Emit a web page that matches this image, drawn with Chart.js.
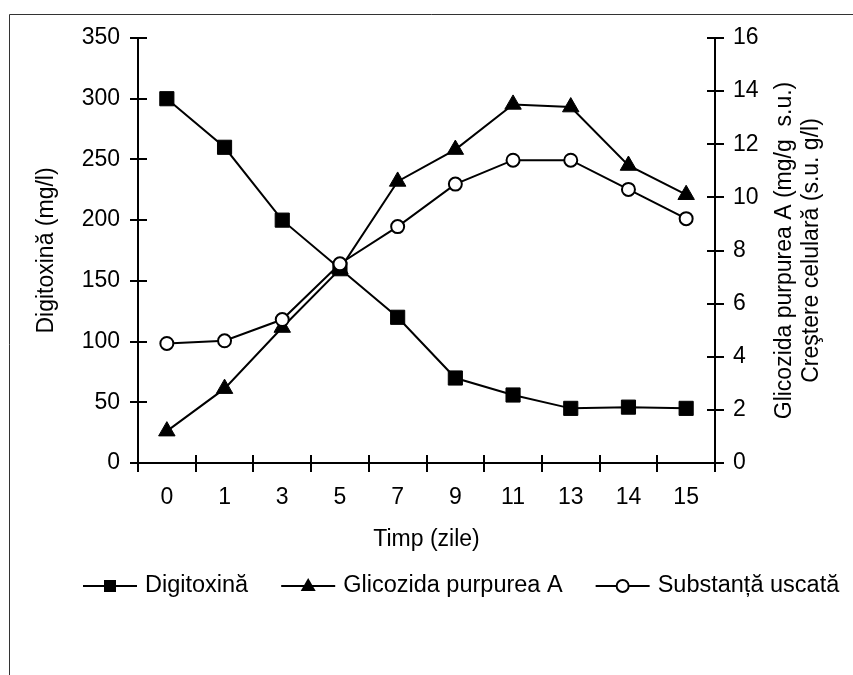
<!DOCTYPE html>
<html>
<head>
<meta charset="utf-8">
<script src="https://cdn.jsdelivr.net/npm/chart.js@4.4.1/dist/chart.umd.min.js"></script>
<style>
    html, body { margin: 0; padding: 0; background: #fff; }
    #wrap { position: relative; width: 853px; height: 675px; }
</style>
</head>
<body>
<div id="wrap"><canvas id="culturaChart" width="853" height="675"></canvas></div>
<script>
// Zilele de cultura (axa X)
const zile = ['0', '1', '3', '5', '7', '9', '11', '13', '14', '15'];

// Digitoxina, axa stanga (mg/l)
const digitoxina = [300, 260, 200, 160, 120, 70, 56, 45, 46, 45];
// Glicozida purpurea A, axa dreapta (mg/g s.u.)
const glicozida = [1.2, 2.8, 5.1, 7.3, 10.6, 11.8, 13.5, 13.4, 11.2, 10.1];
// Substanta uscata, axa dreapta (s.u. g/l)
const substantaUscata = [4.5, 4.6, 5.4, 7.5, 8.9, 10.5, 11.4, 11.4, 10.3, 9.2];

const numeSerii = ['Digitoxină', 'Glicozida purpurea A', 'Substanță uscată'];
const stiluriPuncte = ['rect', 'triangle', 'circle'];
const titluStanga = 'Digitoxină (mg/l)';
const titluriDreapta = ['Glicozida purpurea A (mg/g  s.u.)', 'Creştere celulară (s.u. g/l)'];
const titluX = 'Timp (zile)';

const FONT = '"Liberation Sans", Arial, sans-serif';
Chart.defaults.font.family = FONT;
Chart.defaults.font.size = 23;
Chart.defaults.color = '#000';

// Marker simplu pentru legenda
function deseneazaMarker(ctx, stil, x, y) {
    ctx.beginPath();
    if (stil === 'rect') {
        ctx.rect(x - 6, y - 6, 12, 12);
        ctx.fillStyle = '#000';
        ctx.fill();
    } else if (stil === 'triangle') {
        ctx.moveTo(x, y - 8);
        ctx.lineTo(x + 7.5, y + 5);
        ctx.lineTo(x - 7.5, y + 5);
        ctx.closePath();
        ctx.fillStyle = '#000';
        ctx.fill();
    } else {
        ctx.arc(x, y, 6, 0, Math.PI * 2);
        ctx.fillStyle = '#fff';
        ctx.fill();
        ctx.lineWidth = 2;
        ctx.strokeStyle = '#000';
        ctx.stroke();
    }
}

const decorPlugin = {
    id: 'decor',
    beforeDraw(chart) {
        const ctx = chart.ctx;
        ctx.save();
        ctx.fillStyle = '#fff';
        ctx.fillRect(0, 0, chart.width, chart.height);
        // rama exterioara (sus si stanga)
        ctx.strokeStyle = '#333';
        ctx.lineWidth = 1;
        ctx.beginPath();
        ctx.moveTo(9.5, chart.height);
        ctx.lineTo(9.5, 14.5);
        ctx.lineTo(chart.width, 14.5);
        ctx.stroke();
        ctx.restore();
    },
    afterDraw(chart) {
        const ctx = chart.ctx;
        const area = chart.chartArea;
        ctx.save();
        ctx.strokeStyle = '#000';
        ctx.lineWidth = 2;

        // gradatii care traverseaza axele Y
        ['y', 'y1'].forEach(function (id) {
            const scale = chart.scales[id];
            const ax = scale.position === 'left' ? area.left : area.right;
            scale.ticks.forEach(function (t) {
                const py = Math.round(scale.getPixelForValue(t.value));
                ctx.beginPath();
                ctx.moveTo(ax - 8, py);
                ctx.lineTo(ax + 9, py);
                ctx.stroke();
            });
        });

        // gradatii pe axa X, intre categorii
        const xs = chart.scales.x;
        const pas = xs.getPixelForValue(1) - xs.getPixelForValue(0);
        for (let i = 0; i <= zile.length; i++) {
            const px = Math.round(xs.getPixelForValue(0) - pas / 2 + i * pas);
            ctx.beginPath();
            ctx.moveTo(px, area.bottom - 8);
            ctx.lineTo(px, area.bottom + 9);
            ctx.stroke();
        }

        // titlurile axei din dreapta, citite de jos in sus
        ctx.fillStyle = '#000';
        ctx.font = '23px ' + FONT;
        ctx.textAlign = 'center';
        ctx.textBaseline = 'middle';
        const cy = (area.top + area.bottom) / 2;
        [785, 812].forEach(function (tx, k) {
            ctx.save();
            ctx.translate(tx, cy);
            ctx.rotate(-Math.PI / 2);
            ctx.fillText(titluriDreapta[k], 0, 0);
            ctx.restore();
        });

        // legenda de sub grafic
        let lx = 83;
        const ly = 586;
        ctx.font = '23.5px ' + FONT;
        ctx.textAlign = 'left';
        numeSerii.forEach(function (nume, k) {
            ctx.lineWidth = 2;
            ctx.strokeStyle = '#000';
            ctx.beginPath();
            ctx.moveTo(lx, ly);
            ctx.lineTo(lx + 54, ly);
            ctx.stroke();
            deseneazaMarker(ctx, stiluriPuncte[k], lx + 27, ly);
            ctx.fillStyle = '#000';
            ctx.fillText(nume, lx + 62, ly);
            lx += 62 + ctx.measureText(nume).width + 33;
        });
        ctx.restore();
    }
};

const ctx = document.getElementById('culturaChart').getContext('2d');

new Chart(ctx, {
    type: 'line',
    data: {
        labels: zile,
        datasets: [
            {
                label: numeSerii[0],
                data: digitoxina,
                yAxisID: 'y',
                borderColor: '#000',
                backgroundColor: '#000',
                borderWidth: 2,
                pointStyle: 'rect',
                pointRadius: 10,
                pointBorderWidth: 1,
                pointBorderColor: '#000',
                pointBackgroundColor: '#000',
                order: 2
            },
            {
                label: numeSerii[1],
                data: glicozida,
                yAxisID: 'y1',
                borderColor: '#000',
                backgroundColor: '#000',
                borderWidth: 2,
                pointStyle: 'triangle',
                pointRadius: 9.5,
                pointBorderWidth: 1,
                pointBorderColor: '#000',
                pointBackgroundColor: '#000',
                order: 3
            },
            {
                label: numeSerii[2],
                data: substantaUscata,
                yAxisID: 'y1',
                borderColor: '#000',
                backgroundColor: '#fff',
                borderWidth: 2,
                pointStyle: 'circle',
                pointRadius: 6.5,
                pointBorderWidth: 2,
                pointBorderColor: '#000',
                pointBackgroundColor: '#fff',
                order: 1
            }
        ]
    },
    options: {
        responsive: false,
        animation: false,
        events: [],
        layout: { padding: { top: 38, left: 0, right: 0, bottom: 0 } },
        plugins: {
            legend: { display: false },
            tooltip: { enabled: false }
        },
        scales: {
            x: {
                type: 'category',
                offset: true,
                grid: { display: false, drawTicks: false },
                border: { display: true, color: '#000', width: 2 },
                ticks: { padding: 21, autoSkip: false, maxRotation: 0 },
                title: { display: true, text: titluX, padding: { top: 0, bottom: 122 } },
                afterFit: function (scale) { scale.height = 212; }
            },
            y: {
                position: 'left',
                min: 0,
                max: 350,
                ticks: { stepSize: 50, padding: 18 },
                grid: { display: false, drawTicks: false },
                border: { display: true, color: '#000', width: 2 },
                title: { display: true, text: titluStanga, padding: { top: 33, bottom: 0 } },
                afterFit: function (scale) { scale.width = 138; }
            },
            y1: {
                position: 'right',
                min: 0,
                max: 16,
                ticks: { stepSize: 2, padding: 18 },
                grid: { display: false, drawTicks: false },
                border: { display: true, color: '#000', width: 2 },
                afterFit: function (scale) { scale.width = 138; }
            }
        }
    },
    plugins: [decorPlugin]
});
</script>
</body>
</html>
